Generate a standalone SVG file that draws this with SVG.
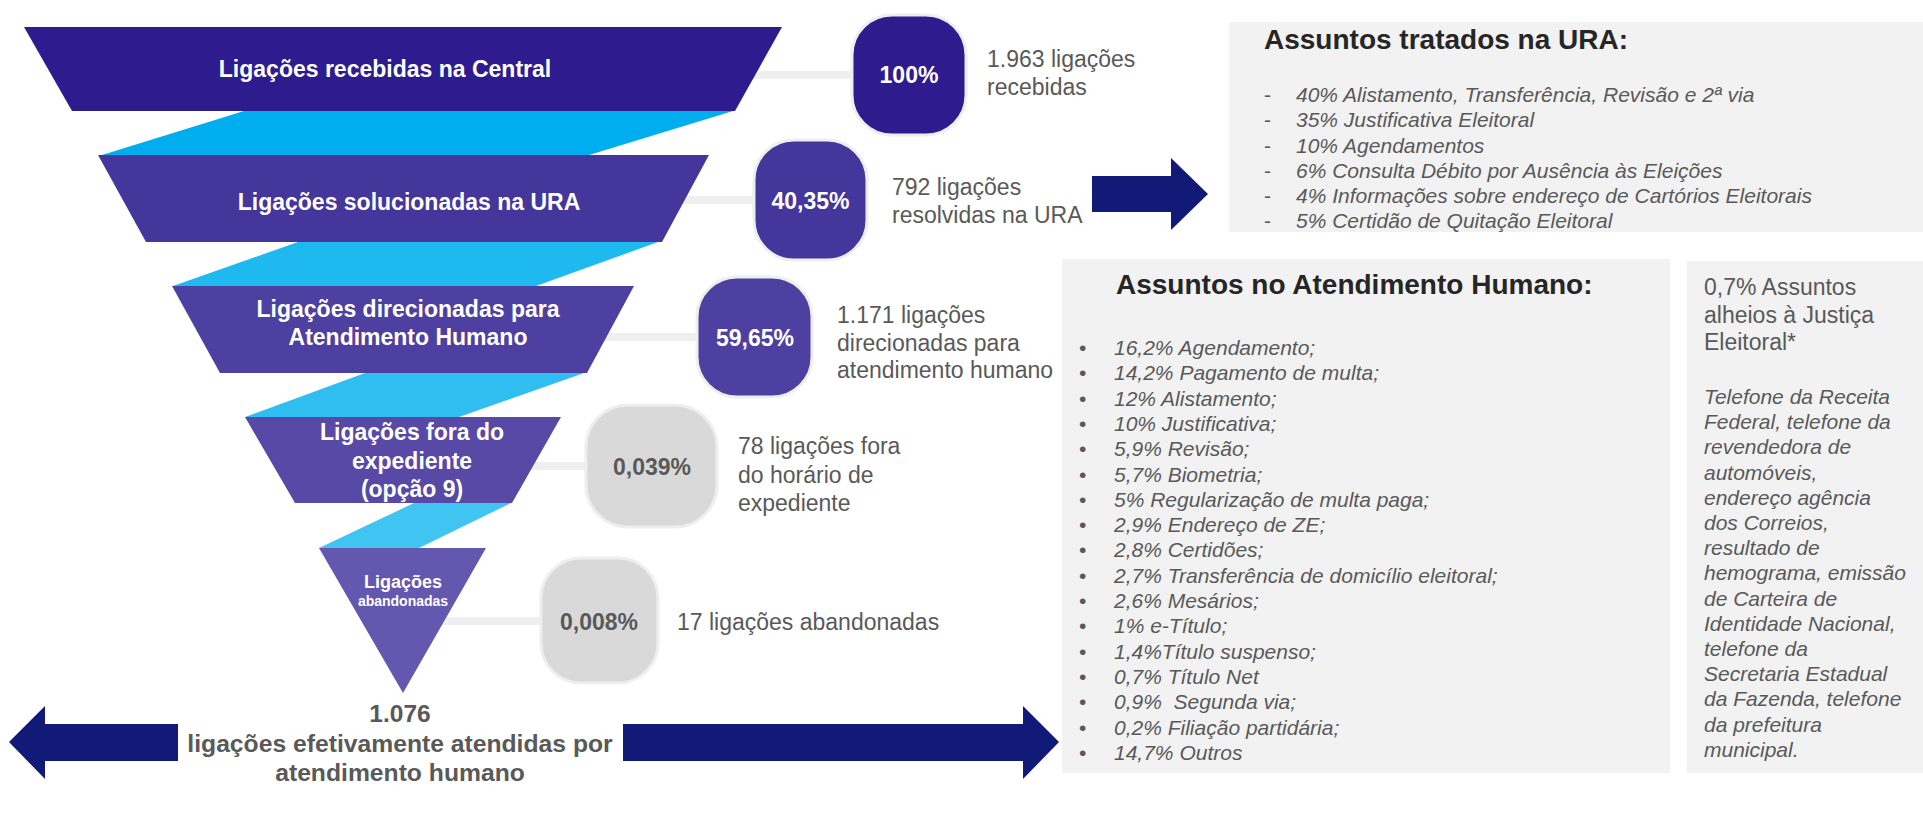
<svg xmlns="http://www.w3.org/2000/svg" width="1923" height="817" viewBox="0 0 1923 817">
<style>
.fl{font-family:"Liberation Sans",Arial,sans-serif;font-weight:bold;fill:#ffffff;text-anchor:middle}
.pct{font-family:"Liberation Sans",Arial,sans-serif;font-weight:bold;font-size:23px;text-anchor:middle}
.note{font-family:"Liberation Sans",Arial,sans-serif;font-size:23px;fill:#595959}
.ttl{font-family:"Liberation Sans",Arial,sans-serif;font-weight:bold;font-size:28px;fill:#262626}
.it{font-family:"Liberation Sans",Arial,sans-serif;font-style:italic;font-size:21px;fill:#595959}
.mk{font-family:"Liberation Sans",Arial,sans-serif;font-size:21px;fill:#595959}
.conn{stroke:#EFEFEF;stroke-width:8;fill:none}
.box{fill:#F2F2F2}
.arr{fill:#111A77}
.bub{stroke:#EEEEEE;stroke-width:3}
</style>
<rect width="1923" height="817" fill="#ffffff"/>

<g id="connectors">
<line class="conn" x1="740" y1="75" x2="853" y2="75"/>
<line class="conn" x1="680" y1="200" x2="755" y2="200"/>
<line class="conn" x1="600" y1="337" x2="698" y2="337"/>
<line class="conn" x1="530" y1="466" x2="587" y2="466"/>
<line class="conn" x1="440" y1="621" x2="542" y2="621"/>
</g>

<g id="bands">
<polygon points="244,111 733,111 589,155 102,155" fill="#00AEEF"/>
<polygon points="298,242 658,242 536,286 173,286" fill="#1EB9EF"/>
<polygon points="365,373 584,373 459,417 245,417" fill="#30BEF0"/>
<polygon points="414,503 511,503 419,548 319,548" fill="#40C5F2"/>
</g>

<g id="funnel-1">
<polygon points="24,27 782,27 735,111 72,111" fill="#2E1C8E"/>
<text class="fl" x="385" y="77" font-size="23">Ligações recebidas na Central</text>
</g>
<g id="funnel-2">
<polygon points="98,155 709,155 662,242 146,242" fill="#44369B"/>
<text class="fl" x="409" y="210" font-size="23">Ligações solucionadas na URA</text>
</g>
<g id="funnel-3">
<polygon points="172,286 634,286 587,373 220,373" fill="#4E40A1"/>
<text class="fl" x="408" y="317" font-size="23">Ligações direcionadas para</text>
<text class="fl" x="408" y="345" font-size="23">Atendimento Humano</text>
</g>
<g id="funnel-4">
<polygon points="245,417 561,417 512,503 295,503" fill="#5849A6"/>
<text class="fl" x="412" y="440" font-size="23">Ligações fora do</text>
<text class="fl" x="412" y="469" font-size="23">expediente</text>
<text class="fl" x="412" y="497" font-size="23">(opção 9)</text>
</g>
<g id="funnel-5">
<polygon points="319,548 486,548 403,693" fill="#6457AF"/>
<text class="fl" x="403" y="588" font-size="18">Ligações</text>
<text class="fl" x="403" y="606" font-size="14">abandonadas</text>
</g>

<g id="bubble-100">
<rect class="bub" x="852" y="15" width="114" height="120" rx="40" fill="#2E1C8E"/>
<text class="pct" x="909" y="83" fill="#ffffff">100%</text>
<text class="note" x="987" y="67">1.963 ligações</text>
<text class="note" x="987" y="95">recebidas</text>
</g>
<g id="bubble-4035">
<rect class="bub" x="754" y="140" width="113" height="120" rx="40" fill="#44369B"/>
<text class="pct" x="810.5" y="209" fill="#ffffff">40,35%</text>
<text class="note" x="892" y="195">792 ligações</text>
<text class="note" x="892" y="223">resolvidas na URA</text>
</g>
<g id="bubble-5965">
<rect class="bub" x="697" y="277" width="115" height="120" rx="40" fill="#4E40A1"/>
<text class="pct" x="755" y="346" fill="#ffffff">59,65%</text>
<text class="note" x="837" y="323">1.171 ligações</text>
<text class="note" x="837" y="351">direcionadas para</text>
<text class="note" x="837" y="378">atendimento humano</text>
</g>
<g id="bubble-0039">
<rect class="bub" x="586" y="405" width="131" height="122" rx="42" fill="#D9D9D9"/>
<text class="pct" x="652" y="475" fill="#595959">0,039%</text>
<text class="note" x="738" y="454">78 ligações fora</text>
<text class="note" x="738" y="483">do horário de</text>
<text class="note" x="738" y="511">expediente</text>
</g>
<g id="bubble-0008">
<rect class="bub" x="541" y="558" width="117" height="125" rx="40" fill="#D9D9D9"/>
<text class="pct" x="599" y="630" fill="#595959">0,008%</text>
<text class="note" x="677" y="630">17 ligações abandonadas</text>
</g>

<g id="ura-arrow">
<polygon class="arr" points="1092,176 1171,176 1171,158 1208,194 1171,230 1171,212 1092,212"/>
</g>

<g id="bottom-arrows">
<polygon class="arr" points="9,742 45,706 45,724 178,724 178,761 45,761 45,779"/>
<polygon class="arr" points="623,724 1023,724 1023,706 1059,742 1023,779 1023,761 623,761"/>
<text class="pct" x="400" y="722" fill="#595959" style="font-size:24.5px">1.076</text>
<text class="pct" x="400" y="752" fill="#595959" style="font-size:24.7px">ligações efetivamente atendidas por</text>
<text class="pct" x="400" y="781" fill="#595959" style="font-size:24.7px">atendimento humano</text>
</g>

<g id="ura-box">
<rect class="box" x="1229" y="22" width="694" height="210"/>
<text class="ttl" x="1264" y="49">Assuntos tratados na URA:</text>
<text class="mk" x="1264" y="102">-</text>
<text class="mk" x="1264" y="127">-</text>
<text class="mk" x="1264" y="152.5">-</text>
<text class="mk" x="1264" y="178">-</text>
<text class="mk" x="1264" y="203">-</text>
<text class="mk" x="1264" y="228">-</text>
<text class="it" x="1296" y="102">40% Alistamento, Transferência, Revisão e 2ª via</text>
<text class="it" x="1296" y="127">35% Justificativa Eleitoral</text>
<text class="it" x="1296" y="152.5">10% Agendamentos</text>
<text class="it" x="1296" y="178">6% Consulta Débito por Ausência às Eleições</text>
<text class="it" x="1296" y="203">4% Informações sobre endereço de Cartórios Eleitorais</text>
<text class="it" x="1296" y="228">5% Certidão de Quitação Eleitoral</text>
</g>

<g id="human-box">
<rect class="box" x="1062" y="259" width="608" height="514"/>
<text class="ttl" x="1116" y="294">Assuntos no Atendimento Humano:</text>
<text class="mk" x="1079" y="355">•<tspan x="1079" dy="25.3">•</tspan><tspan x="1079" dy="25.3">•</tspan><tspan x="1079" dy="25.3">•</tspan><tspan x="1079" dy="25.3">•</tspan><tspan x="1079" dy="25.3">•</tspan><tspan x="1079" dy="25.3">•</tspan><tspan x="1079" dy="25.3">•</tspan><tspan x="1079" dy="25.3">•</tspan><tspan x="1079" dy="25.3">•</tspan><tspan x="1079" dy="25.3">•</tspan><tspan x="1079" dy="25.3">•</tspan><tspan x="1079" dy="25.3">•</tspan><tspan x="1079" dy="25.3">•</tspan><tspan x="1079" dy="25.3">•</tspan><tspan x="1079" dy="25.3">•</tspan><tspan x="1079" dy="25.3">•</tspan></text>
<text class="it" x="1114" y="355">16,2% Agendamento;<tspan x="1114" dy="25.3">14,2% Pagamento de multa;</tspan><tspan x="1114" dy="25.3">12% Alistamento;</tspan><tspan x="1114" dy="25.3">10% Justificativa;</tspan><tspan x="1114" dy="25.3">5,9% Revisão;</tspan><tspan x="1114" dy="25.3">5,7% Biometria;</tspan><tspan x="1114" dy="25.3">5% Regularização de multa paga;</tspan><tspan x="1114" dy="25.3">2,9% Endereço de ZE;</tspan><tspan x="1114" dy="25.3">2,8% Certidões;</tspan><tspan x="1114" dy="25.3">2,7% Transferência de domicílio eleitoral;</tspan><tspan x="1114" dy="25.3">2,6% Mesários;</tspan><tspan x="1114" dy="25.3">1% e-Título;</tspan><tspan x="1114" dy="25.3">1,4%Título suspenso;</tspan><tspan x="1114" dy="25.3">0,7% Título Net</tspan><tspan x="1114" dy="25.3">0,9%&#160; Segunda via;</tspan><tspan x="1114" dy="25.3">0,2% Filiação partidária;</tspan><tspan x="1114" dy="25.3">14,7% Outros</tspan></text>
</g>

<g id="other-box">
<rect class="box" x="1687" y="261" width="236" height="512"/>
<text class="note" x="1704" y="295">0,7% Assuntos<tspan x="1704" dy="27.5">alheios à Justiça</tspan><tspan x="1704" dy="27.5">Eleitoral*</tspan></text>
<text class="it" x="1704" y="404">Telefone da Receita<tspan x="1704" dy="25.2">Federal, telefone da</tspan><tspan x="1704" dy="25.2">revendedora de</tspan><tspan x="1704" dy="25.2">automóveis,</tspan><tspan x="1704" dy="25.2">endereço agência</tspan><tspan x="1704" dy="25.2">dos Correios,</tspan><tspan x="1704" dy="25.2">resultado de</tspan><tspan x="1704" dy="25.2">hemograma, emissão</tspan><tspan x="1704" dy="25.2">de Carteira de</tspan><tspan x="1704" dy="25.2">Identidade Nacional,</tspan><tspan x="1704" dy="25.2">telefone da</tspan><tspan x="1704" dy="25.2">Secretaria Estadual</tspan><tspan x="1704" dy="25.2">da Fazenda, telefone</tspan><tspan x="1704" dy="25.2">da prefeitura</tspan><tspan x="1704" dy="25.2">municipal.</tspan></text>
</g>
</svg>
